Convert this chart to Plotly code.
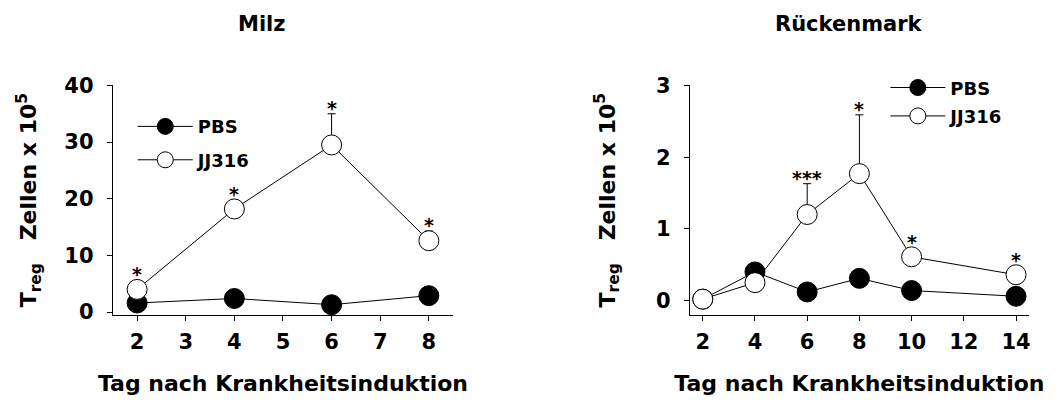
import plotly.graph_objects as go

# ---- data ----
milz_days = [2, 4, 6, 8]
milz_pbs = [1.6, 2.4, 1.3, 2.9]
milz_jj = [4.0, 18.2, 29.5, 12.6]
milz_jj_err = [0, 0, 5.5, 1.7]
milz_sig = ["*", "*", "*", "*"]

rm_days = [2, 4, 6, 8, 10, 14]
rm_pbs = [0.02, 0.40, 0.12, 0.31, 0.14, 0.06]
rm_jj = [0.02, 0.25, 1.20, 1.77, 0.61, 0.36]
rm_jj_err = [0, 0, 0.43, 0.82, 0, 0]
rm_sig = ["", "", "***", "*", "*", "*"]

titles = ["Milz", "Rückenmark"]
x_title = "Tag nach Krankheitsinduktion"
y_title = "T<sub>reg</sub>&nbsp;&nbsp;&nbsp;Zellen x 10<sup>5</sup>"
series_names = ["PBS", "JJ316"]

W, H = 1062, 406
OFF = 8  # page body margin of the written html
FONT = "DejaVu Sans, Liberation Sans, Arial, sans-serif"


def px_x(p):
    return (p - OFF) / W


def px_y(p):
    return 1 - (p - OFF) / H


fig = go.Figure()


def add_panel(days, pbs, jj, jj_err, xa, ya, legend, gp):
    fig.add_trace(go.Scatter(
        x=days, y=pbs, name=series_names[0], mode="lines+markers",
        line=dict(color="black", width=1),
        marker=dict(size=20, color="black", line=dict(color="black", width=1)),
        xaxis=xa, yaxis=ya, legend=legend, legendgroup=gp + "p", cliponaxis=False))
    fig.add_trace(go.Scatter(
        x=days, y=jj, name=series_names[1], mode="lines+markers",
        line=dict(color="black", width=1),
        marker=dict(size=20, color="white", line=dict(color="black", width=1)),
        error_y=dict(type="data", symmetric=False, array=jj_err,
                     arrayminus=[0] * len(jj_err), color="black",
                     thickness=1, width=4),
        xaxis=xa, yaxis=ya, legend=legend, legendgroup=gp + "j", cliponaxis=False))


add_panel(milz_days, milz_pbs, milz_jj, milz_jj_err, "x", "y", "legend", "l")
add_panel(rm_days, rm_pbs, rm_jj, rm_jj_err, "x2", "y2", "legend2", "r")

annotations = []


def add_sig(days, vals, errs, sig, xref, yref):
    for d, v, e, s in zip(days, vals, errs, sig):
        if not s:
            continue
        annotations.append(dict(
            x=d, y=v + e, xref=xref, yref=yref, text=s, showarrow=False,
            yanchor="middle", yshift=(6 if e > 0 else 15),
            font=dict(family=FONT, size=19, color="black", weight="bold")))


add_sig(milz_days, milz_jj, milz_jj_err, milz_sig, "x", "y")
add_sig(rm_days, rm_jj, rm_jj_err, rm_sig, "x2", "y2")

for t, cx in zip(titles, [262, 851]):
    annotations.append(dict(
        x=px_x(cx), y=px_y(12), xref="paper", yref="paper", text=t,
        showarrow=False, xanchor="center", yanchor="middle",
        font=dict(family=FONT, size=21, color="black", weight="bold")))

fig.update_layout(annotations=annotations)

ydom = [px_y(319), px_y(77)]
tick_font = dict(family=FONT, size=21, color="black", weight="bold")
title_font = dict(family=FONT, size=22, color="black", weight="bold")
axis_common = dict(
    showline=True, linecolor="black", linewidth=1, showgrid=False, zeroline=False,
    ticks="outside", ticklen=5, tickwidth=1, tickcolor="black", tickfont=tick_font,
)

fig.update_layout(
    width=W, height=H,
    margin=dict(l=0, r=0, t=0, b=0),
    paper_bgcolor="white", plot_bgcolor="white",
    showlegend=True,
    xaxis=dict(domain=[px_x(113), px_x(454)], range=[1.5, 8.5], dtick=1, tick0=2,
               anchor="y", ticklabelstandoff=3,
               title=dict(text=x_title, font=title_font, standoff=22), **axis_common),
    yaxis=dict(domain=ydom, range=[-0.5, 40], dtick=10, anchor="x",
               ticklabelstandoff=9,
               title=dict(text=y_title, font=title_font, standoff=21), **axis_common),
    xaxis2=dict(domain=[px_x(691), px_x(1031)], range=[1.5, 14.5], dtick=2, tick0=2,
                anchor="y2", ticklabelstandoff=3,
                title=dict(text=x_title, font=title_font, standoff=22), **axis_common),
    yaxis2=dict(domain=ydom, range=[-0.2, 3], dtick=1, anchor="x2",
                ticklabelstandoff=9,
                title=dict(text=y_title, font=title_font, standoff=34), **axis_common),
    legend=dict(x=px_x(133), y=px_y(101), xanchor="left", yanchor="top",
                bgcolor="rgba(0,0,0,0)", tracegroupgap=7, itemwidth=55,
                font=dict(family=FONT, size=18, color="black", weight="bold")),
    legend2=dict(x=px_x(887), y=px_y(60), xanchor="left", yanchor="top",
                 bgcolor="rgba(0,0,0,0)", tracegroupgap=2, itemwidth=55,
                 font=dict(family=FONT, size=18, color="black", weight="bold")),
)

fig.write_html("out.html")
